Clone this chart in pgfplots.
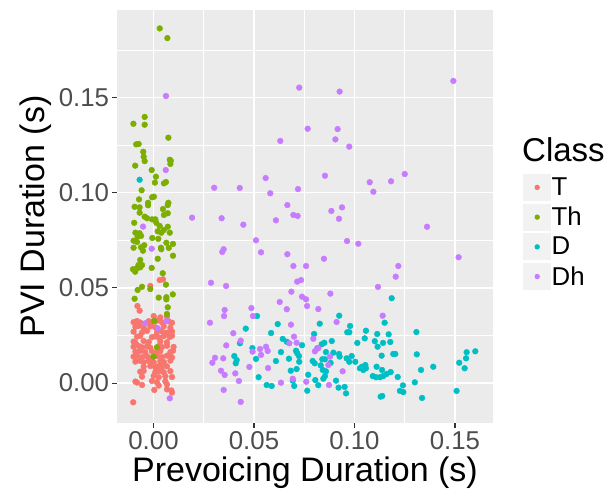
\documentclass[border=0pt]{standalone}
\usepackage{pgfplots}
\pgfplotsset{compat=1.18}
\usepackage{fontspec}
\setmainfont{Liberation Sans}
\definecolor{cT}{HTML}{F8766D}
\definecolor{cTh}{HTML}{7CAE00}
\definecolor{cD}{HTML}{00BFC4}
\definecolor{cDh}{HTML}{C77CFF}
\definecolor{panel}{HTML}{EBEBEB}
\definecolor{keybg}{HTML}{F2F2F2}
\definecolor{tickc}{HTML}{333333}
\definecolor{labc}{HTML}{4D4D4D}
\begin{document}
\begin{tikzpicture}
\useasboundingbox (-117pt,-73pt) rectangle (494pt,423pt);
\begin{axis}[
 scale only axis, width=376pt, height=413pt,
 xmin=-0.01816, xmax=0.16891, ymin=-0.02096, ymax=0.19596,
 axis background/.style={fill=panel},
 axis line style={draw=none},
 xtick={0,0.05,0.10,0.15}, ytick={0,0.05,0.10,0.15},
 minor xtick={-0.025,0.025,0.075,0.125}, minor ytick={0.025,0.075,0.125,0.175},
 grid=both,
 major grid style={white, line width=1.4pt},
 minor grid style={white, line width=0.7pt},
 tick align=outside, tick pos=left,
 major tick length=4.5pt, minor tick length=0pt,
 every tick/.style={tickc, line width=1.1pt},
 /pgf/number format/assume math mode=true,
 /pgf/number format/fixed, /pgf/number format/fixed zerofill, /pgf/number format/precision=2,
 scaled ticks=false,
 ticklabel style={font=\fontsize{25.8}{30}\selectfont, text=labc},
 xlabel={Prevoicing Duration (s)}, ylabel={PVI Duration (s)},
 label style={font=\fontsize{34}{40}\selectfont},
 xlabel style={at={([yshift=-58pt]axis description cs:0.5,0)}, anchor=base},
 ylabel style={at={([xshift=-72pt]axis description cs:0,0.5)}, anchor=base},
 legend style={at={([xshift=30pt]rel axis cs:1,0.4625)}, anchor=west, draw=none, fill=none, inner sep=0pt,
   font=\fontsize{25.8}{30}\selectfont, row sep=2.7pt, nodes={inner sep=0.5pt}},
 legend cell align=left,
 /tikz/every even column/.append style={column sep=5pt},
]
\addplot[only marks, mark=*, mark size=2.9pt, color=cT, fill=cT,
 legend image code/.code={\path[fill=keybg, draw=none] (0pt,-13.5pt) rectangle (28pt,13.5pt); \path[fill=cT, draw=none] (14pt,0pt) circle (2.7pt);}]
table {
x y
0.0001 0.0352
0.0034 0.0345
0.0067 0.0350
-0.0099 0.0320
-0.0082 0.0326
-0.0066 0.0318
-0.0024 0.0325
-0.0008 0.0320
0.0017 0.0328
0.0042 0.0319
0.0076 0.0324
0.0092 0.0317
-0.0090 0.0296
-0.0074 0.0300
-0.0049 0.0291
-0.0016 0.0298
0.0009 0.0293
0.0051 0.0299
0.0084 0.0290
-0.0099 0.0270
-0.0057 0.0266
-0.0032 0.0274
0.0017 0.0268
0.0042 0.0272
0.0067 0.0265
0.0092 0.0271
-0.0082 0.0244
-0.0066 0.0248
-0.0008 0.0241
0.0009 0.0246
0.0026 0.0240
0.0051 0.0247
0.0080 0.0242
0.0092 0.0249
-0.0099 0.0218
-0.0090 0.0212
-0.0049 0.0221
-0.0024 0.0215
0.0034 0.0219
0.0067 0.0214
-0.0099 0.0191
-0.0074 0.0195
-0.0057 0.0188
-0.0032 0.0193
-0.0016 0.0186
0.0026 0.0194
0.0042 0.0189
0.0067 0.0196
0.0100 0.0190
-0.0090 0.0165
-0.0066 0.0169
-0.0041 0.0162
-0.0008 0.0167
0.0017 0.0160
0.0034 0.0168
0.0084 0.0163
0.0097 0.0170
-0.0099 0.0139
-0.0082 0.0143
-0.0057 0.0136
-0.0032 0.0141
-0.0008 0.0134
0.0017 0.0142
0.0042 0.0137
0.0067 0.0144
0.0092 0.0135
-0.0090 0.0113
-0.0066 0.0117
-0.0049 0.0110
-0.0024 0.0116
0.0001 0.0109
0.0034 0.0115
0.0051 0.0111
0.0084 0.0118
-0.0049 0.0086
-0.0016 0.0090
0.0009 0.0083
0.0026 0.0089
0.0042 0.0084
0.0067 0.0088
-0.0066 0.0060
-0.0049 0.0064
0.0009 0.0058
0.0026 0.0062
0.0051 0.0057
0.0084 0.0063
-0.0057 0.0034
0.0001 0.0038
0.0026 0.0031
0.0059 0.0036
0.0092 0.0032
-0.0090 0.0008
-0.0082 0.0003
-0.0008 0.0011
0.0017 0.0005
0.0059 0.0009
-0.0057 -0.0010
0.0026 -0.0013
0.0067 -0.0007
0.0004 -0.0036
0.0067 -0.0033
0.0089 -0.0039
0.0092 -0.0050
-0.0101 -0.0101
0.0031 0.0541
0.0047 0.0545
-0.0016 0.0510
-0.0080 0.0405
-0.0069 0.0380
};
\addlegendentry{T}
\addplot[only marks, mark=*, mark size=2.9pt, color=cTh, fill=cTh,
 legend image code/.code={\path[fill=keybg, draw=none] (0pt,-13.5pt) rectangle (28pt,13.5pt); \path[fill=cTh, draw=none] (14pt,0pt) circle (2.7pt);}]
table {
x y
0.0031 0.1863
0.0069 0.1812
-0.0044 0.1398
-0.0100 0.1362
-0.0044 0.1357
0.0074 0.1289
-0.0086 0.1254
-0.0074 0.1256
-0.0051 0.1215
-0.0049 0.1189
-0.0044 0.1166
0.0081 0.1173
0.0086 0.1168
0.0084 0.1151
-0.0091 0.1142
-0.0009 0.1119
0.0012 0.1084
0.0007 0.1053
0.0052 0.1049
0.0062 0.1056
-0.0059 0.1013
-0.0007 0.0976
0.0002 0.0979
-0.0072 0.0965
-0.0027 0.0947
-0.0027 0.0934
0.0074 0.0947
0.0071 0.0935
-0.0094 0.0926
-0.0069 0.0923
0.0047 0.0914
-0.0069 0.0895
0.0052 0.0883
0.0071 0.0892
-0.0044 0.0874
-0.0032 0.0866
-0.0007 0.0860
0.0009 0.0860
-0.0096 0.0842
0.0014 0.0842
0.0031 0.0825
0.0021 0.0797
0.0039 0.0790
0.0051 0.0804
0.0071 0.0821
0.0081 0.0790
-0.0090 0.0790
-0.0069 0.0787
-0.0062 0.0773
-0.0079 0.0769
-0.0006 0.0762
0.0024 0.0758
-0.0099 0.0748
-0.0082 0.0741
0.0064 0.0737
0.0097 0.0731
-0.0046 0.0724
-0.0099 0.0711
-0.0062 0.0713
-0.0052 0.0695
0.0037 0.0711
0.0039 0.0703
0.0076 0.0710
0.0097 0.0669
0.0021 0.0653
-0.0066 0.0647
-0.0075 0.0620
-0.0102 0.0598
-0.0091 0.0585
-0.0082 0.0603
-0.0066 0.0608
-0.0057 0.0620
-0.0009 0.0605
0.0046 0.0577
0.0062 0.0517
-0.0057 0.0506
-0.0079 0.0489
-0.0016 0.0494
-0.0094 0.0443
0.0026 0.0449
0.0064 0.0451
0.0064 0.0440
0.0096 0.0466
0.0071 0.0398
0.0067 0.0363
0.0004 0.0326
0.0017 0.0188
0.0001 0.0139
};
\addlegendentry{Th}
\addplot[only marks, mark=*, mark size=2.9pt, color=cD, fill=cD,
 legend image code/.code={\path[fill=keybg, draw=none] (0pt,-13.5pt) rectangle (28pt,13.5pt); \path[fill=cD, draw=none] (14pt,0pt) circle (2.7pt);}]
table {
x y
-0.0069 0.1068
0.1185 0.0446
0.0924 0.0354
0.0827 0.0312
0.0618 0.0310
0.0515 0.0352
0.0459 0.0286
0.0585 0.0263
0.0799 0.0258
0.0643 0.0232
0.0663 0.0217
0.0430 0.0209
0.0739 0.0199
0.0850 0.0212
0.0837 0.0204
0.0887 0.0221
0.0492 0.0184
0.0815 0.0183
0.0634 0.0163
0.0709 0.0170
0.0715 0.0157
0.0724 0.0142
0.0858 0.0163
0.0895 0.0160
0.0923 0.0153
0.0926 0.0139
0.0402 0.0142
0.0414 0.0121
0.0409 0.0104
0.0510 0.0127
0.0609 0.0116
0.0674 0.0128
0.0725 0.0112
0.0792 0.0116
0.0802 0.0104
0.0840 0.0125
0.0853 0.0125
0.0881 0.0106
0.0832 0.0093
0.0842 0.0069
0.0858 0.0062
0.0845 0.0023
0.0853 0.0037
0.0683 0.0065
0.0712 0.0074
0.0770 0.0044
0.0523 0.0031
0.0693 0.0013
0.0700 -0.0015
0.0563 -0.0010
0.0588 -0.0015
0.0805 0.0016
0.0820 -0.0011
0.0765 -0.0040
0.0908 0.0013
0.0921 -0.0024
0.1150 0.0317
0.0978 0.0300
0.0964 0.0267
0.0974 0.0267
0.1057 0.0275
0.1113 0.0258
0.1170 0.0256
0.1308 0.0268
0.1051 0.0235
0.1014 0.0211
0.1101 0.0220
0.1115 0.0191
0.1142 0.0211
0.1178 0.0216
0.1135 0.0144
0.1193 0.0153
0.1203 0.0153
0.1310 0.0151
0.0961 0.0130
0.0974 0.0112
0.0986 0.0142
0.1004 0.0112
0.1027 0.0078
0.1044 0.0069
0.1057 0.0078
0.1054 0.0095
0.1037 0.0086
0.1110 0.0086
0.1137 0.0069
0.1180 0.0058
0.1160 0.0048
0.1091 0.0037
0.1107 0.0031
0.1127 0.0031
0.1143 0.0037
0.1215 0.0032
0.1331 0.0069
0.1392 0.0086
0.1300 0.0004
0.1241 -0.0012
0.1226 -0.0041
0.1243 -0.0047
0.1138 -0.0068
0.1130 -0.0071
0.1336 -0.0078
0.0951 -0.0020
0.0958 -0.0054
0.1508 -0.0041
0.1521 0.0107
0.1548 0.0078
0.1555 0.0130
0.1558 0.0162
0.1601 0.0167
};
\addlegendentry{D}
\addplot[only marks, mark=*, mark size=2.9pt, color=cDh, fill=cDh,
 legend image code/.code={\path[fill=keybg, draw=none] (0pt,-13.5pt) rectangle (28pt,13.5pt); \path[fill=cDh, draw=none] (14pt,0pt) circle (2.7pt);}]
table {
x y
0.0062 0.1508
0.0061 0.1119
0.0302 0.1026
0.0192 0.0869
0.0339 0.0866
-0.0052 0.0822
-0.0009 0.0706
0.0349 0.0703
0.0342 0.0689
0.0286 0.0527
0.0361 0.0510
0.0354 0.0384
0.0351 0.0352
0.0281 0.0317
-0.0041 0.0314
0.0021 0.0288
0.0064 0.0326
0.0397 0.0262
0.0362 0.0198
0.0306 0.0133
0.0347 0.0130
0.0293 0.0107
0.0336 0.0065
0.0354 0.0043
0.0407 0.0051
0.0349 -0.0036
0.0081 -0.0080
0.0725 0.1552
0.0926 0.1531
0.0767 0.1336
0.0916 0.1334
0.0631 0.1272
0.0905 0.1280
0.0974 0.1242
0.0558 0.1077
0.0853 0.1089
0.0429 0.1025
0.0719 0.1019
0.0581 0.0997
0.0666 0.0935
0.0696 0.0883
0.0717 0.0878
0.0885 0.0904
0.0938 0.0923
0.0923 0.0863
0.0447 0.0832
0.0609 0.0855
0.0510 0.0750
0.0963 0.0746
0.0535 0.0687
0.0666 0.0677
0.0848 0.0653
0.0696 0.0615
0.0759 0.0615
0.0715 0.0533
0.0734 0.0541
0.0686 0.0480
0.0739 0.0454
0.0759 0.0440
0.0880 0.0470
0.0628 0.0426
0.0764 0.0405
0.1492 0.1587
0.1076 0.1055
0.1182 0.1060
0.1250 0.1098
0.1094 0.1005
0.1361 0.0821
0.1019 0.0732
0.1518 0.0661
0.1218 0.0615
0.1205 0.0559
0.1117 0.0505
0.0663 0.0388
0.0820 0.0389
0.0487 0.0394
0.0495 0.0352
0.0684 0.0307
0.0699 0.0244
0.0795 0.0233
0.0712 0.0212
0.0676 0.0209
0.0434 0.0223
0.0560 0.0191
0.0530 0.0179
0.0568 0.0169
0.0535 0.0148
0.0493 0.0165
0.0803 0.0167
0.0820 0.0183
0.0477 0.0085
0.0570 0.0079
0.0425 0.0011
0.0634 0.0002
0.0693 0.0023
0.0760 0.0007
0.0878 0.0139
0.0870 0.0095
0.0873 -0.0010
0.0941 0.0062
0.0911 0.0321
0.0434 -0.0099
0.1140 0.0354
};
\addlegendentry{Dh}
\end{axis}
\node[anchor=base west, inner sep=0pt, font=\fontsize{33}{38}\selectfont] at (405pt,261pt) {Class};
\end{tikzpicture}
\end{document}
